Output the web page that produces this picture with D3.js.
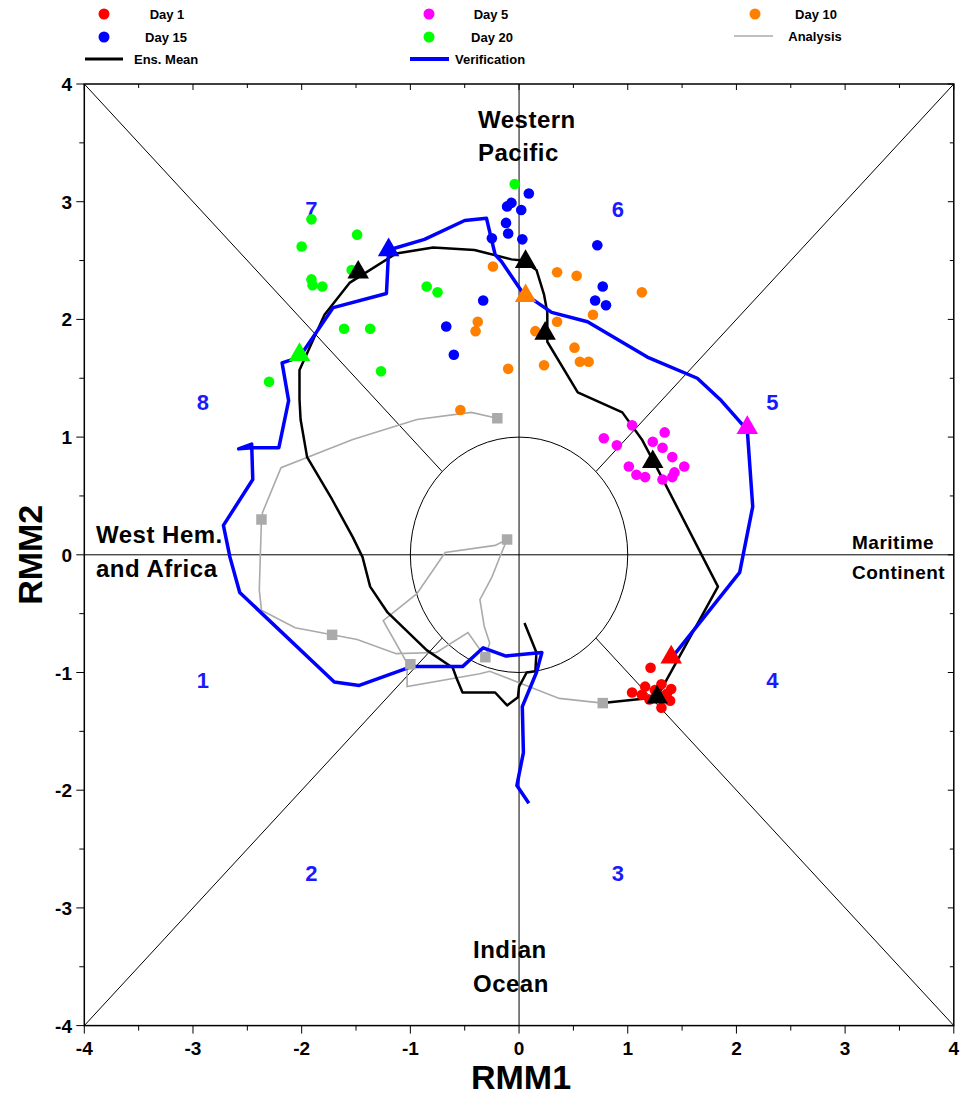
<!DOCTYPE html>
<html>
<head>
<meta charset="utf-8">
<script src="https://cdn.jsdelivr.net/npm/d3@7"></script>
<style>
  body { margin: 0; background: #fff; }
  svg text { font-family: "Liberation Sans", Arial, sans-serif; font-weight: bold; }
</style>
</head>
<body>
<div id="chart"></div>
<script>
// ---- data (RMM1, RMM2) ----
var verification = [
  [1.41,-0.87],[2.03,-0.15],[2.15,0.41],[2.10,1.06],[1.85,1.32],[1.64,1.50],[1.18,1.68],
  [0.63,1.98],[0.30,2.06],[0.03,2.23],[-0.16,2.49],[-0.22,2.55],[-0.30,2.86],[-0.50,2.84],
  [-0.87,2.68],[-1.20,2.59],[-1.22,2.22],[-1.71,2.10],[-2.02,1.68],[-2.18,1.63],[-2.12,1.31],
  [-2.21,0.91],[-2.45,0.91],[-2.58,0.90],[-2.46,0.94],[-2.45,0.64],[-2.72,0.25],[-2.66,-0.02],
  [-2.57,-0.32],[-1.70,-1.08],[-1.47,-1.11],[-0.99,-0.95],[-0.52,-0.95],[-0.33,-0.79],
  [-0.12,-0.86],[0.21,-0.83],[0.16,-1.00],[0.03,-1.29],[0.04,-1.68],[-0.02,-1.96],[0.09,-2.11]
];
var ensMean = [
  [0.77,-1.26],[1.27,-1.21],[1.83,-0.27],[1.29,0.70],[1.13,0.98],[0.95,1.21],[0.54,1.38],
  [0.26,1.81],[0.26,2.06],[0.23,2.21],[0.16,2.42],[0.03,2.50],[-0.07,2.51],[-0.41,2.59],
  [-0.79,2.61],[-1.13,2.56],[-1.56,2.31],[-1.79,2.04],[-2.02,1.57],[-2.02,1.32],[-2.01,1.15],
  [-1.95,0.83],[-1.72,0.47],[-1.53,0.15],[-1.44,-0.02],[-1.37,-0.27],[-1.21,-0.49],
  [-0.85,-0.81],[-0.61,-0.96],[-0.57,-1.06],[-0.52,-1.17],[-0.22,-1.17],[-0.11,-1.28],
  [-0.01,-1.21],[0.00,-1.12],[0.07,-1.00],[0.15,-0.99],[0.16,-0.83],[0.05,-0.58]
];
var analysis = [
  [-0.20,1.16],[-0.44,1.21],[-0.94,1.15],[-1.53,0.98],[-2.19,0.74],[-2.36,0.36],[-2.37,0.30],
  [-2.39,-0.30],[-2.37,-0.47],[-2.06,-0.62],[-1.72,-0.68],[-1.49,-0.72],[-1.13,-0.84],
  [-0.76,-0.83],[-0.47,-0.66],[-0.31,-0.87],[-0.27,-0.75],[-0.32,-0.61],[-0.36,-0.38],
  [-0.25,-0.19],[-0.16,0.02],[-0.11,0.13],[-0.22,0.08],[-0.68,0.02],[-0.94,-0.33],
  [-1.25,-0.56],[-1.03,-0.92],[-1.03,-1.12],[-0.36,-1.01],[-0.27,-0.99],[0.37,-1.22],[0.77,-1.26]
];
var analysisMarks = [[-0.20,1.16],[-2.37,0.30],[-1.72,-0.68],[-1.00,-0.93],[-0.31,-0.87],[-0.11,0.13],[0.77,-1.26]];

var day1 = [[1.21,-0.96],[1.04,-1.17],[1.16,-1.12],[1.25,-1.15],[1.31,-1.10],[1.40,-1.14],
  [1.39,-1.24],[1.31,-1.30],[1.20,-1.23],[1.13,-1.19],[1.28,-1.19],[1.36,-1.18]];
var day5 = [[1.04,1.10],[0.78,0.99],[0.90,0.93],[1.34,1.04],[1.23,0.96],[1.32,0.91],[1.41,0.83],
  [1.52,0.75],[1.43,0.70],[1.41,0.66],[1.32,0.64],[1.16,0.66],[1.08,0.68],[1.01,0.75]];
var day10 = [[-0.24,2.45],[0.35,2.40],[0.53,2.37],[1.13,2.23],[0.68,2.04],[0.35,1.98],[0.15,1.90],
  [-0.38,1.98],[-0.40,1.90],[0.51,1.76],[0.56,1.64],[0.64,1.64],[0.23,1.61],[-0.10,1.58],[-0.54,1.23]];
var day15 = [[0.09,3.07],[-0.07,2.99],[-0.11,2.96],[0.02,2.93],[-0.12,2.82],[-0.10,2.73],[-0.25,2.69],
  [0.03,2.68],[-0.33,2.16],[-0.67,1.94],[-0.60,1.70],[0.72,2.63],[0.77,2.28],[0.70,2.16],[0.80,2.12]];
var day20 = [[-0.04,3.15],[-1.91,2.85],[-1.49,2.72],[-2.00,2.62],[-1.54,2.42],[-1.91,2.34],[-1.90,2.29],
  [-1.81,2.28],[-0.85,2.28],[-0.75,2.23],[-1.61,1.92],[-1.37,1.92],[-1.27,1.56],[-2.30,1.47]];

var ensTriangles = [[1.27,-1.21],[1.23,0.79],[0.24,1.88],[0.06,2.49],[-1.48,2.40]];
var verTriangles = [[1.40,-0.87],[2.10,1.08],[0.06,2.20],[-1.20,2.59],[-2.02,1.70]];

var phaseLabels = ["1","2","3","4","5","6","7","8"];
var phasePos = [[-2.91,-1.06],[-1.91,-2.70],[0.91,-2.70],[2.33,-1.06],[2.33,1.30],[0.91,2.94],[-1.91,2.94],[-2.91,1.30]];
var ticks = [-4,-3,-2,-1,0,1,2,3,4];
var minorTicks = [-3.5,-2.5,-1.5,-0.5,0.5,1.5,2.5,3.5];

var dayColors = ["#ff0000","#ff00ff","#ff8000","#0000ff","#00ff00"];

// ---- drawing ----
var W = 961, H = 1099;
var svg = d3.select("#chart").append("svg").attr("width", W).attr("height", H);

var x = d3.scaleLinear().domain([-4,4]).range([84.3, 953.8]);
var y = d3.scaleLinear().domain([-4,4]).range([1025.6, 84]);

// guide lines
var g = svg.append("g").attr("stroke","#000").attr("stroke-width",1).attr("fill","none");
g.append("line").attr("x1",x(-4)).attr("x2",x(4)).attr("y1",y(0)).attr("y2",y(0));
g.append("line").attr("x1",x(0)).attr("x2",x(0)).attr("y1",y(-4)).attr("y2",y(4));
var r45 = Math.SQRT1_2;
[[-1,-1],[-1,1],[1,-1],[1,1]].forEach(function(s) {
  g.append("line").attr("x1",x(4*s[0])).attr("y1",y(4*s[1]))
    .attr("x2",x(r45*s[0])).attr("y2",y(r45*s[1]));
});
g.append("ellipse").attr("cx",x(0)).attr("cy",y(0))
  .attr("rx",x(1)-x(0)).attr("ry",y(0)-y(1));

// frame + axes
svg.append("rect").attr("x",x(-4)).attr("y",y(4)).attr("width",x(4)-x(-4)).attr("height",y(-4)-y(4))
  .attr("fill","none").attr("stroke","#000").attr("stroke-width",1.5);

function tickMarks(vals, len, side) {
  var tg = svg.append("g").attr("stroke","#000").attr("stroke-width",1);
  vals.forEach(function(v) {
    if (side=="bottom") tg.append("line").attr("x1",x(v)).attr("x2",x(v)).attr("y1",y(-4)).attr("y2",y(-4)+len);
    if (side=="top") tg.append("line").attr("x1",x(v)).attr("x2",x(v)).attr("y1",y(4)).attr("y2",y(4)+len);
    if (side=="left") tg.append("line").attr("y1",y(v)).attr("y2",y(v)).attr("x1",x(-4)).attr("x2",x(-4)-len);
    if (side=="right") tg.append("line").attr("y1",y(v)).attr("y2",y(v)).attr("x1",x(4)).attr("x2",x(4)-len);
  });
}
tickMarks(ticks, 8, "bottom"); tickMarks(minorTicks, 5, "bottom");
tickMarks(ticks, 8, "left"); tickMarks(minorTicks, 5, "left");
tickMarks(ticks, 6, "top"); tickMarks(minorTicks, 4, "top");
tickMarks(ticks, 6, "right"); tickMarks(minorTicks, 4, "right");

svg.append("g").selectAll("text").data(ticks).enter().append("text")
  .attr("x", function(d){return x(d)}).attr("y", 1055)
  .attr("text-anchor","middle").attr("font-size",19).text(function(d){return d});
svg.append("g").selectAll("text").data(ticks).enter().append("text")
  .attr("x", 72).attr("y", function(d){return y(d)+7})
  .attr("text-anchor","end").attr("font-size",19).text(function(d){return d});

svg.append("text").attr("x",x(0)+2).attr("y",1089).attr("text-anchor","middle")
  .attr("font-size",34).text("RMM1");
svg.append("text").attr("transform","translate(42,"+y(0)+") rotate(-90)").attr("text-anchor","middle")
  .attr("font-size",34).text("RMM2");

// phase numbers
svg.append("g").selectAll("text").data(phaseLabels).enter().append("text")
  .attr("x", function(d,i){return x(phasePos[i][0])})
  .attr("y", function(d,i){return y(phasePos[i][1])+8})
  .attr("text-anchor","middle").attr("font-size",22).attr("fill","#1a1aff").text(function(d){return d});

// region labels
function label(txt, px, py, fs) {
  svg.append("text").attr("x",px).attr("y",py).attr("font-size",fs).attr("letter-spacing",0.5).text(txt);
}
label("Western", 478, 128, 24); label("Pacific", 478, 161, 24);
label("Indian", 473, 958, 24); label("Ocean", 473, 992, 24);
label("West Hem.", 96, 543, 24); label("and Africa", 96, 577, 24);
label("Maritime", 852, 549, 19); label("Continent", 852, 579, 19);

// trajectories
var line = d3.line().x(function(d){return x(d[0])}).y(function(d){return y(d[1])});
svg.append("path").datum(analysis).attr("d",line).attr("fill","none").attr("stroke","#aaaaaa").attr("stroke-width",1.6);
svg.append("path").datum(ensMean).attr("d",line).attr("fill","none").attr("stroke","#000").attr("stroke-width",2.5).attr("stroke-linejoin","round");

// ensemble members
[day1, day5, day10, day15, day20].forEach(function(set, i) {
  svg.append("g").selectAll("circle").data(set).enter().append("circle")
    .attr("cx", function(d){return x(d[0])}).attr("cy", function(d){return y(d[1])})
    .attr("r", 5.3).attr("fill", dayColors[i]);
});

svg.append("path").datum(verification).attr("d",line).attr("fill","none").attr("stroke","#0000ff").attr("stroke-width",3.5).attr("stroke-linejoin","round");

svg.append("g").selectAll("path").data(analysisMarks).enter().append("path")
  .attr("d", d3.symbol().type(d3.symbolSquare).size(110))
  .attr("transform", function(d){return "translate("+x(d[0])+","+y(d[1])+")"})
  .attr("fill","#aaaaaa");

var tri = d3.symbol().type(d3.symbolTriangle).size(200);
svg.append("g").selectAll("path").data(ensTriangles).enter().append("path")
  .attr("d", tri).attr("transform", function(d){return "translate("+x(d[0])+","+y(d[1])+")"})
  .attr("fill","#000");
svg.append("g").selectAll("path").data(verTriangles).enter().append("path")
  .attr("d", tri).attr("transform", function(d){return "translate("+x(d[0])+","+y(d[1])+")"})
  .attr("fill", function(d,i){return dayColors[i]});

// legend
var legendNames = ["Day 1","Day 5","Day 10","Day 15","Day 20"];
var legX = [104, 429, 755, 104, 429];
var legY = [14, 14, 14, 37, 37];
var legTextX = [167, 491, 816, 166, 492];
var lg = svg.append("g").attr("font-size",13);
legendNames.forEach(function(n, i) {
  lg.append("circle").attr("cx",legX[i]).attr("cy",legY[i]).attr("r",5.5).attr("fill",dayColors[i]);
  lg.append("text").attr("x",legTextX[i]).attr("y",legY[i]+5).attr("text-anchor","middle")
    .style("font-family","'Liberation Sans Narrow', 'Liberation Sans', Arial").text(n);
});
lg.append("line").attr("x1",734).attr("x2",773).attr("y1",36).attr("y2",36).attr("stroke","#aaaaaa").attr("stroke-width",1.5);
lg.append("text").attr("x",815).attr("y",41).attr("text-anchor","middle")
  .style("font-family","'Liberation Sans Narrow', 'Liberation Sans', Arial").text("Analysis");
lg.append("line").attr("x1",85).attr("x2",123).attr("y1",59).attr("y2",59).attr("stroke","#000").attr("stroke-width",3);
lg.append("text").attr("x",134).attr("y",64)
  .style("font-family","'Liberation Sans Narrow', 'Liberation Sans', Arial").text("Ens. Mean");
lg.append("line").attr("x1",410).attr("x2",449).attr("y1",59).attr("y2",59).attr("stroke","#0000ff").attr("stroke-width",4);
lg.append("text").attr("x",455).attr("y",64)
  .style("font-family","'Liberation Sans Narrow', 'Liberation Sans', Arial").text("Verification");
</script>
</body>
</html>
